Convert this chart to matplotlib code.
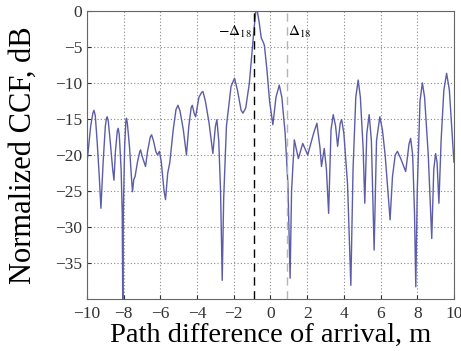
import matplotlib
matplotlib.use("Agg")
import matplotlib.pyplot as plt

# -----------------------
# Data
# -----------------------
path_diff_m = [
    -10.0, -9.8, -9.68, -9.62, -9.55, -9.45, -9.33, -9.24, -9.12, -9.0,
    -8.94, -8.9, -8.84, -8.72, -8.6, -8.53, -8.45, -8.35, -8.3, -8.24,
    -8.14, -8.08, -8.05, -8.02, -7.95, -7.88, -7.85, -7.8, -7.68, -7.58,
    -7.52, -7.45, -7.38, -7.25, -7.12, -7.08, -6.98, -6.81, -6.7, -6.55,
    -6.48, -6.38, -6.25, -6.16, -6.05, -5.95, -5.8, -5.72, -5.6, -5.49,
    -5.3, -5.15, -5.04, -4.93, -4.75, -4.58, -4.45, -4.32, -4.26, -4.15,
    -4.08, -3.9, -3.75, -3.68, -3.55, -3.35, -3.14, -3.0, -2.92, -2.82,
    -2.72, -2.63, -2.55, -2.4, -2.15, -1.96, -1.8, -1.6, -1.5, -1.35,
    -1.15, -0.9, -0.8, -0.72, -0.62, -0.5, -0.4, -0.33, -0.2, -0.05,
    0.13, 0.3, 0.48, 0.62, 0.8, 0.95, 1.07, 1.15, 1.3, 1.52,
    1.76, 2.03, 2.35, 2.53, 2.7, 2.78, 2.93, 3.05, 3.17, 3.3,
    3.42, 3.55, 3.66, 3.8, 3.88, 4.0, 4.2, 4.38, 4.5, 4.65,
    4.78, 4.9, 5.05, 5.14, 5.25, 5.38, 5.5, 5.65, 5.78, 5.96,
    6.1, 6.25, 6.4, 6.52, 6.65, 6.8, 6.92, 7.1, 7.37, 7.55,
    7.64, 7.75, 7.85, 7.92, 8.0, 8.15, 8.28, 8.4, 8.6, 8.79,
    8.9, 9.0, 9.08, 9.18, 9.3, 9.45, 9.6, 9.75, 9.9, 10.0,
]
ccf_db = [
    -21.1, -16.0, -14.2, -13.8, -14.5, -18.0, -23.0, -27.4, -21.0, -16.0,
    -14.9, -14.7, -15.3, -18.5, -22.0, -23.5, -19.5, -16.7, -16.3, -17.2,
    -22.0, -28.0, -41.0, -28.0, -19.0, -15.3, -14.9, -15.6, -19.0, -23.0,
    -25.1, -23.4, -23.0, -21.0, -19.5, -19.3, -20.3, -21.6, -19.5, -17.5,
    -17.2, -18.0, -19.5, -20.0, -19.5, -21.0, -25.0, -26.2, -22.5, -21.1,
    -16.5, -13.7, -13.1, -13.9, -16.5, -20.0, -16.0, -13.4, -13.1, -14.3,
    -14.7, -12.0, -11.3, -11.2, -12.5, -15.5, -19.8, -16.0, -15.1, -18.0,
    -25.0, -37.4, -26.0, -16.0, -10.5, -9.35, -11.0, -13.8, -14.2, -13.5,
    -10.0, -2.6, -0.1, 0.0, -1.5, -3.8, -4.3, -4.8, -8.0, -12.5,
    -15.8, -12.0, -10.3, -12.0, -17.0, -24.0, -37.1, -25.0, -17.9, -20.5,
    -18.4, -20.0, -17.0, -15.6, -19.0, -21.6, -19.1, -22.0, -28.1, -16.5,
    -14.4, -16.0, -18.8, -15.6, -15.1, -17.0, -24.0, -38.1, -22.0, -12.0,
    -9.6, -12.0, -19.0, -26.7, -17.0, -14.4, -18.0, -33.2, -18.0, -14.7,
    -16.5, -20.0, -25.0, -29.0, -23.0, -20.0, -19.5, -20.5, -22.3, -18.5,
    -17.7, -20.0, -28.0, -38.3, -25.0, -12.5, -10.0, -12.0, -20.0, -31.6,
    -22.0, -19.8, -21.0, -26.7, -18.0, -11.0, -8.66, -11.0, -17.0, -21.0,
]

delta_18 = 0.9
x_ticks = list(range(-10, 11, 2))
y_ticks = [0, -5, -10, -15, -20, -25, -30, -35]

# -----------------------
# Plot
# -----------------------
plt.rcParams["font.family"] = ["Liberation Serif", "DejaVu Serif"]
plt.rcParams["mathtext.fontset"] = "stix"

fig = plt.figure(figsize=(4.61, 3.51), dpi=100)
ax = fig.add_axes([0.1887, 0.148, 0.796, 0.821])

ax.plot(path_diff_m, ccf_db, color="#5c5ca8", linewidth=1.0)

ax.axvline(-delta_18 - 0.02, color="black", linestyle=(0, (6, 4)), linewidth=1.0)
ax.axvline(delta_18, color="#b5b5b5", linestyle=(0, (6, 4)), linewidth=1.0)
ax.text(-delta_18 - 0.12, -2.9, r"$-\Delta_{18}$", ha="right", va="center",
        fontsize=11)
ax.text(delta_18 + 0.05, -2.9, r"$\Delta_{18}$", ha="left", va="center",
        fontsize=11)

ax.set_xlim(-10, 10)
ax.set_ylim(-40, 0)
ax.set_xticks(x_ticks)
ax.set_yticks(y_ticks)
ax.set_xticklabels([f"\u2212{abs(t)}" if t < 0 else str(t) for t in x_ticks])
ax.set_yticklabels([f"\u2212{abs(t)}" if t < 0 else str(t) for t in y_ticks])
ax.tick_params(direction="in", length=3, labelsize=12.5, colors="#333333")
ax.tick_params(axis="x", pad=5)
for spine in ax.spines.values():
    spine.set_color("#666666")

ax.grid(True, linestyle=(0, (1, 2)), color="#888888", linewidth=0.8)

ax.set_xlabel("Path difference of arrival, m", fontsize=20.5, labelpad=1)
ax.set_ylabel("Normalized CCF, dB", fontsize=22)
ax.yaxis.set_label_coords(-0.133, 0.5)

fig.savefig("out.png", dpi=100)
